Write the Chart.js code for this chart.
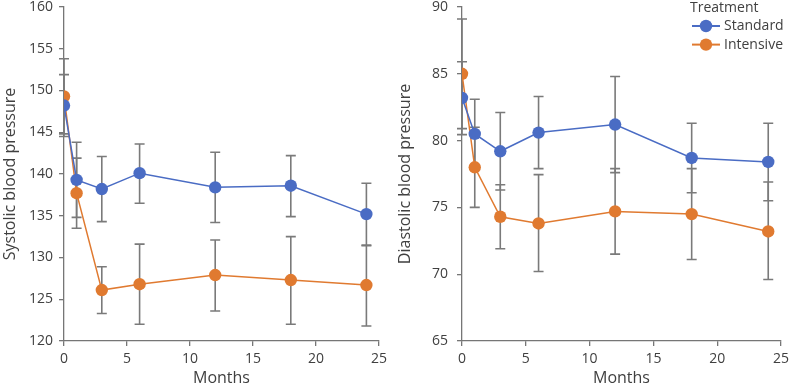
<!DOCTYPE html>
<html>
<head>
<meta charset="utf-8">
<script src="https://cdn.jsdelivr.net/npm/chart.js@4.4.1/dist/chart.umd.min.js"></script>
<style>
    html, body { margin: 0; padding: 0; background: #fff; }
    #wrap { position: relative; width: 795px; height: 388px; }
    .panel { position: absolute; top: 0; height: 388px; }
</style>
</head>
<body>
<div id="wrap">
    <div class="panel" style="left:0;width:395px"><canvas id="sys"></canvas></div>
    <div class="panel" style="left:395px;width:400px"><canvas id="dia"></canvas></div>
</div>
<script>
const months = [0, 1, 3, 6, 12, 18, 24];
const xTicks = [0, 5, 10, 15, 20, 25];

const sysStandard     = [148.2, 139.3, 138.2, 140.1, 138.4, 138.6, 135.2];
const sysStandardLow  = [144.5, 134.8, 134.3, 136.5, 134.2, 134.9, 131.4];
const sysStandardHigh = [151.9, 143.8, 142.1, 143.6, 142.6, 142.2, 138.9];
const sysIntensive     = [149.3, 137.7, 126.1, 126.8, 127.9, 127.3, 126.7];
const sysIntensiveLow  = [144.8, 133.5, 123.3, 122.0, 123.6, 122.0, 121.8];
const sysIntensiveHigh = [153.8, 141.9, 128.9, 131.6, 132.1, 132.5, 131.5];

const diaStandard     = [83.2, 80.5, 79.2, 80.6, 81.2, 78.7, 78.4];
const diaStandardLow  = [80.45, 77.9, 76.3, 77.9, 77.6, 76.1, 75.5];
const diaStandardHigh = [85.9, 83.1, 82.1, 83.3, 84.8, 81.3, 81.3];
const diaIntensive     = [85.0, 78.0, 74.3, 73.8, 74.7, 74.5, 73.2];
const diaIntensiveLow  = [80.9, 75.0, 71.9, 70.2, 71.5, 71.1, 69.6];
const diaIntensiveHigh = [89.1, 81.0, 76.7, 77.45, 77.9, 77.9, 76.9];

const seriesNames = ['Standard', 'Intensive'];
const seriesColors = ['#4a6cc4', '#e07a30'];

const FONT = "'Open Sans', sans-serif";
const TEXT = '#404040';
const AXIS = '#767676';

Chart.defaults.font.family = FONT;
Chart.defaults.color = TEXT;

function makeDataset(i, values, low, high) {
    return {
        label: seriesNames[i],
        data: months.map((m, k) => ({ x: m, y: values[k] })),
        low: low,
        high: high,
        borderColor: seriesColors[i],
        backgroundColor: seriesColors[i],
        borderWidth: 1.5,
        pointRadius: 6.2,
        pointHoverRadius: 6.2,
        pointBorderWidth: 0,
        showLine: true,
        tension: 0
    };
}

const errorBars = {
    id: 'errorBars',
    beforeDatasetsDraw(chart) {
        const { ctx, scales: { x, y } } = chart;
        ctx.save();
        ctx.strokeStyle = '#7a7a7a';
        ctx.lineWidth = 1.6;
        chart.data.datasets.forEach(ds => {
            months.forEach((m, k) => {
                const px = x.getPixelForValue(m);
                const y0 = y.getPixelForValue(ds.low[k]);
                const y1 = y.getPixelForValue(ds.high[k]);
                ctx.beginPath();
                ctx.moveTo(px, y0); ctx.lineTo(px, y1);
                ctx.moveTo(px - 5, y0); ctx.lineTo(px + 5, y0);
                ctx.moveTo(px - 5, y1); ctx.lineTo(px + 5, y1);
                ctx.stroke();
            });
        });
        ctx.restore();
    }
};

const treatmentLegend = {
    id: 'treatmentLegend',
    afterDraw(chart) {
        const ctx = chart.ctx;
        ctx.save();
        ctx.font = '14px ' + FONT;
        ctx.fillStyle = TEXT;
        ctx.textBaseline = 'middle';
        ctx.textAlign = 'left';
        ctx.fillText('Treatment', 295, 8);
        seriesNames.forEach((name, i) => {
            const cy = 26 + i * 18.6;
            ctx.strokeStyle = seriesColors[i];
            ctx.fillStyle = seriesColors[i];
            ctx.lineWidth = 2;
            ctx.beginPath();
            ctx.moveTo(297, cy); ctx.lineTo(325, cy);
            ctx.stroke();
            ctx.beginPath();
            ctx.arc(311, cy, 6.2, 0, Math.PI * 2);
            ctx.fill();
            ctx.fillStyle = TEXT;
            ctx.fillText(name, 329, cy);
        });
        ctx.restore();
    }
};

function makeChart(id, datasets, yMin, yMax, yStep, yTitle, yWidth, yPad, rightPad, extra) {
    new Chart(document.getElementById(id), {
        type: 'scatter',
        data: { datasets },
        options: {
            responsive: true,
            maintainAspectRatio: false,
            animation: false,
            layout: { padding: { top: 7, right: rightPad, bottom: 0, left: 0 } },
            plugins: { legend: { display: false }, tooltip: { enabled: false } },
            scales: {
                x: {
                    type: 'linear',
                    min: 0,
                    max: 25,
                    afterBuildTicks: s => { s.ticks = xTicks.map(v => ({ value: v })); },
                    afterFit: s => { s.height = 47; },
                    grid: { drawOnChartArea: false, drawTicks: true, tickLength: 5, color: AXIS, lineWidth: 1.3 },
                    border: { color: AXIS, width: 1.3 },
                    ticks: { font: { size: 14, lineHeight: 1 }, color: TEXT, padding: 6, maxRotation: 0 },
                    title: { display: true, text: 'Months', font: { size: 16 }, color: TEXT, padding: 0 }
                },
                y: {
                    min: yMin,
                    max: yMax,
                    afterFit: s => { s.width = yWidth; s.paddingTop = 0; s.paddingBottom = 0; },
                    grid: { drawOnChartArea: false, drawTicks: true, tickLength: 5, color: AXIS, lineWidth: 1.3 },
                    border: { color: AXIS, width: 1.3 },
                    ticks: { stepSize: yStep, font: { size: 14, lineHeight: 1 }, color: TEXT, padding: yPad },
                    title: { display: true, text: yTitle, font: { size: 16 }, color: TEXT, padding: { top: 1, bottom: 0 } }
                }
            }
        },
        plugins: [errorBars].concat(extra)
    });
}

makeChart('sys', [
    makeDataset(0, sysStandard, sysStandardLow, sysStandardHigh),
    makeDataset(1, sysIntensive, sysIntensiveLow, sysIntensiveHigh)
], 120, 160, 5, 'Systolic blood pressure', 64, 6, 16, []);

makeChart('dia', [
    makeDataset(0, diaStandard, diaStandardLow, diaStandardHigh),
    makeDataset(1, diaIntensive, diaIntensiveLow, diaIntensiveHigh)
], 65, 90, 5, 'Diastolic blood pressure', 67, 9, 9, [treatmentLegend]);
</script>
</body>
</html>
